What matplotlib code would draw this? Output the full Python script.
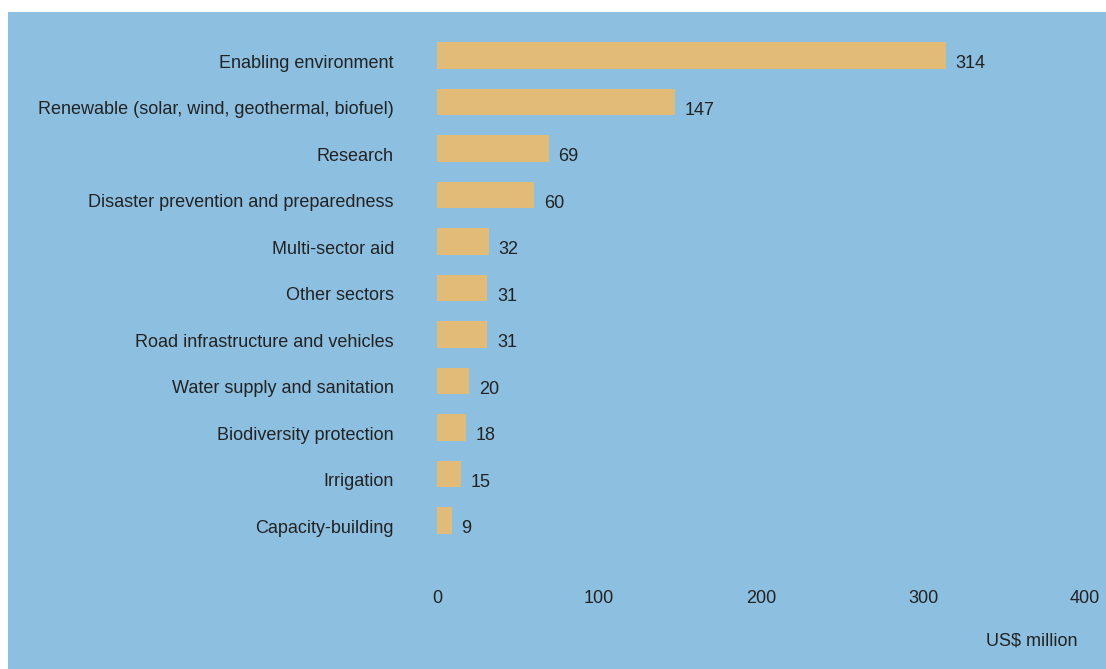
import matplotlib.pyplot as plt
from matplotlib.patches import Rectangle
from matplotlib.transforms import ScaledTranslation

plt.rcParams["font.family"] = ["Liberation Sans", "DejaVu Sans"]

# climate-related aid by sector
sectors = [
    "Enabling environment",
    "Renewable (solar, wind, geothermal, biofuel)",
    "Research",
    "Disaster prevention and preparedness",
    "Multi-sector aid",
    "Other sectors",
    "Road infrastructure and vehicles",
    "Water supply and sanitation",
    "Biodiversity protection",
    "Irrigation",
    "Capacity-building",
]
amounts = [314, 147, 69, 60, 32, 31, 31, 20, 18, 15, 9]
x_ticks = [0, 100, 200, 300, 400]

BG = "#8dc0e0"
BAR = "#e2bc76"
TXT = "#222222"
FS = 13

W, H = 1106, 669
fig = plt.figure(figsize=(W / 100, H / 100), dpi=100)
fig.patch.set_facecolor("white")
fig.patches.append(Rectangle((8 / W, 0), 1 - 8 / W, 1 - 12 / H,
                             transform=fig.transFigure, facecolor=BG,
                             edgecolor="none", zorder=-10))

ax = fig.add_axes([437 / W, 1 - 543.75 / H, 648 / W, 511.5 / H])
ax.set_facecolor("none")
ax.set_zorder(5)

ypos = list(range(len(sectors)))
ax.barh(ypos, amounts, height=0.58, color=BAR)
for y, v in zip(ypos, amounts):
    ax.annotate(str(v), (v, y), xytext=(7, -6), textcoords="offset points",
                ha="left", va="center", fontsize=FS, color=TXT)

ax.set_xlim(0, 400)
ax.set_ylim(len(sectors) - 0.5, -0.5)
ax.set_yticks(ypos)
ax.set_yticklabels(sectors)
ax.set_xticks(x_ticks)
ax.set_xticklabels([str(t) for t in x_ticks])
ax.tick_params(axis="y", length=0, pad=31, labelsize=FS, labelcolor=TXT)
ax.tick_params(axis="x", length=0, pad=33, labelsize=FS, labelcolor=TXT)
for s in ax.spines.values():
    s.set_visible(False)

# sector names sit a little below the bar centres
shift = ScaledTranslation(0, -4 / 72, fig.dpi_scale_trans)
for lbl in ax.get_yticklabels():
    lbl.set_transform(lbl.get_transform() + shift)

fig.text(1078 / W, 1 - 641 / H, "US$ million", ha="right", va="center",
         fontsize=FS, color=TXT)

fig.savefig("out.png", dpi=100, facecolor=fig.get_facecolor())
